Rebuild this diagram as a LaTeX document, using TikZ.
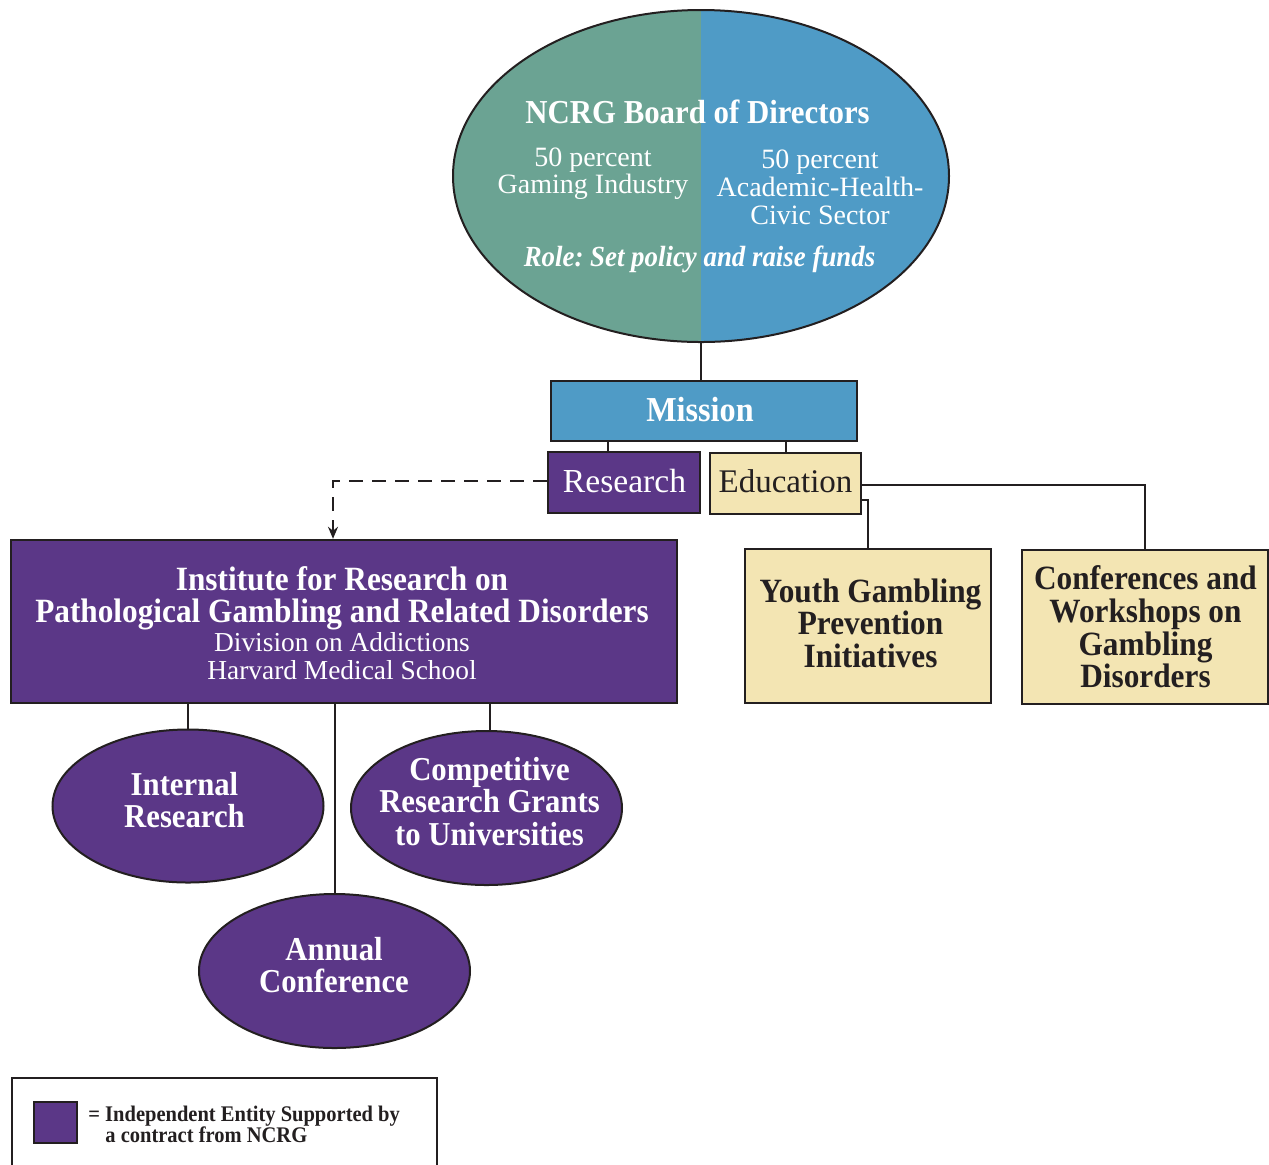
\documentclass[tikz,border=0pt]{standalone}
\usepackage{fontspec}
\setmainfont{Liberation Serif}[BoldFeatures={FakeStretch=0.92},BoldItalicFeatures={FakeStretch=0.92}]
\usetikzlibrary{shapes.geometric,arrows.meta}
\frenchspacing
\definecolor{teal}{HTML}{6BA393}
\definecolor{sky}{HTML}{4F9BC6}
\definecolor{purp}{HTML}{5B3787}
\definecolor{cream}{HTML}{F3E5B3}
\definecolor{ink}{HTML}{231F20}
\newcommand\mybigbf{\bfseries\fontsize{17}{16.3}\selectfont}
\newcommand\mysmallrm{\mdseries\fontsize{13.7}{14}\selectfont}
\tikzset{
  box/.style={draw=ink, line width=1.2pt, inner sep=0pt, align=center},
  purbox/.style={box, fill=purp, text=white},
  crmbox/.style={box, fill=cream, text=ink},
  oval/.style={ellipse, draw=ink, line width=1pt, fill=purp, inner sep=0pt,
    minimum width=135.5pt, minimum height=77pt},
  ovaltxt/.style={text=white, inner sep=0pt, align=center, font=\bfseries\fontsize{16.7}{16.4}\selectfont},
  txt/.style={inner sep=0pt, align=center},
  conn/.style={draw=ink, line width=1pt},
}
\begin{document}
\begin{tikzpicture}[x=0.5pt,y=-0.5pt]
\frenchspacing
\useasboundingbox (0,0) rectangle (1269,1164);
\clip (0,0) rectangle (1269,1164);
% board ellipse
\begin{scope}
\clip (701,176) ellipse [x radius=248, y radius=166];
\fill[teal] (440,0) rectangle (701,350);
\fill[sky] (701,0) rectangle (960,350);
\end{scope}
\node[ellipse, draw=ink, line width=1pt, minimum width=248pt, minimum height=166pt, inner sep=0pt] (board) at (701,176) {};
\node[txt, text=white, font=\bfseries\fontsize{16.75}{17}\selectfont] (btitle) at (697.5,112) {NCRG Board of Directors};
\node[txt, text=white, font=\fontsize{14}{13.5}\selectfont] (bleft) at (593,173.5) {50 percent\\Gaming Industry};
\node[txt, text=white, font=\fontsize{14}{14}\selectfont] (bright) at (820,187) {50 percent\\Academic-Health-\\Civic Sector};
\node[txt, text=white, font=\bfseries\itshape\fontsize{14.6}{15}\selectfont] (brole) at (699.5,259) {Role:\ Set policy and raise funds};
% mission row
\node[box, fill=sky, minimum width=153pt, minimum height=30pt] (mission) at (704,411) {};
\node[txt, text=white, font=\bfseries\fontsize{17.5}{17}\selectfont] (missiontxt) at (700,409.5) {Mission};
\node[purbox, minimum width=76pt, minimum height=30.5pt] (research) at (624,482.5) {};
\node[txt, text=white, font=\fontsize{16.8}{16}\selectfont] (researchtxt) at (624.5,480.5) {Research};
\node[crmbox, minimum width=75.5pt, minimum height=30.5pt] (education) at (785.5,483.5) {};
\node[txt, text=ink, font=\fontsize{16.5}{16}\selectfont] (educationtxt) at (785.5,481.5) {Education};
% second level
\node[purbox, minimum width=333pt, minimum height=81.5pt] (institute) at (344,621.5) {};
\node[txt, text=white, font=\mybigbf] (institutetxt) at (342,623)
  {Institute for Research on\\[-0.3pt]Pathological Gambling and Related Disorders\\[-1.8pt]
   {\mysmallrm Division on Addictions}\\[-2.3pt]{\mysmallrm Harvard Medical School}};
\node[crmbox, minimum width=123pt, minimum height=77pt] (youth) at (868,626) {};
\node[txt, text=ink, font=\mybigbf] (youthtxt) at (870.5,623) {Youth Gambling\\Prevention\\Initiatives};
\node[crmbox, minimum width=123pt, minimum height=77pt] (conf) at (1145,627) {};
\node[txt, text=ink, font=\mybigbf] (conftxt) at (1145.5,627) {Conferences and\\Workshops on\\Gambling\\Disorders};
% ovals
\node[oval, minimum height=76.5pt] (internal) at (188,806) {};
\node[ovaltxt] (internaltxt) at (184.5,800) {Internal\\Research};
\node[oval] (compet) at (486.5,808) {};
\node[ovaltxt] (compettxt) at (489.5,801.5) {Competitive\\Research Grants\\to Universities};
\node[oval] (annual) at (334.5,971) {};
\node[ovaltxt] (annualtxt) at (334,965) {Annual\\Conference};
% connectors
\draw[conn] (board.south) -- (board.south |- mission.north);
\draw[conn] ([xshift=-8pt]research.north) -- ([xshift=-8pt]research.north |- mission.south);
\draw[conn] (education.north) -- (education.north |- mission.south);
\draw[conn, dash pattern=on 7pt off 4.5pt, -{Stealth[length=6pt,width=5pt]}] ([yshift=0.75pt]research.west) -| ([xshift=-5.5pt]institute.north);
\draw[conn] ([yshift=-0.75pt]education.east) -| (conf.north);
\draw[conn] ([yshift=-8.25pt]education.east) -| (youth.north);
\draw[conn] (internal.north |- institute.south) -- (internal.north);
\draw[conn] ([xshift=1.75pt]compet.north |- institute.south) -- ([xshift=1.75pt]compet.north);
\draw[conn] (annual.north |- institute.south) -- (annual.north);
% legend
\draw[draw=ink, line width=1.2pt] (12,1078) rectangle (437,1200);
\node[box, fill=purp, minimum width=21.5pt, minimum height=20.5pt, line width=0.8pt] (legsq) at (55.5,1122.5) {};
\node[anchor=west, align=left, text=ink, inner sep=0pt, font=\bfseries\fontsize{11.15}{10.5}\selectfont] (legtxt) at (88,1124.5) {= Independent Entity Supported by\\\hspace*{8.5pt}a contract from NCRG};
\end{tikzpicture}
\end{document}
